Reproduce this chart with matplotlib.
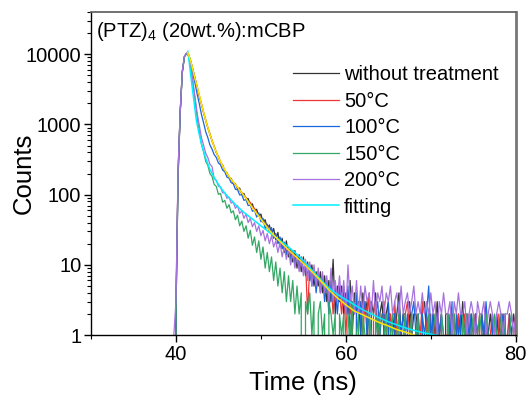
import numpy as np
import matplotlib
matplotlib.use("Agg")
import matplotlib.pyplot as plt
from matplotlib.ticker import FuncFormatter, LogLocator, MultipleLocator

plt.rcParams['font.family'] = ['Liberation Sans', 'DejaVu Sans']
plt.rcParams['mathtext.fontset'] = 'custom'
plt.rcParams['mathtext.rm'] = 'Liberation Sans'
plt.rcParams['mathtext.it'] = 'Liberation Sans:italic'

# TCSPC channels, 0.25 ns apart, starting at 39.5 ns (10 channels per row below)
time_ns = 39.5 + 0.25 * np.arange(170)

counts_untreated = [
    0, 0, 2, 170, 1450, 5500, 9200, 10300, 9800, 7900,
    6020, 4480, 3420, 2530, 1960, 1470, 1160, 890, 735, 580,
    490, 395, 348, 285, 262, 218, 205, 176, 170, 146,
    143, 121, 124, 101, 104, 86, 88, 71, 74, 58,
    62, 49, 53, 40, 44, 33, 37, 27, 33, 23,
    29, 18, 24, 15, 22, 13, 17, 11, 16, 9,
    14, 8, 13, 7, 11, 6, 10, 5, 8, 5,
    8, 4, 7, 3, 6, 3, 12, 2, 5, 3,
    5, 2, 4, 2, 6, 1, 4, 2, 3, 1,
    4, 2, 3, 0, 3, 2, 4, 1, 2, 3,
    1, 2, 3, 0, 2, 1, 2, 4, 1, 2,
    2, 0, 3, 1, 2, 2, 1, 0, 2, 3,
    1, 2, 0, 2, 1, 3, 1, 2, 0, 2,
    2, 1, 2, 0, 1, 2, 1, 3, 1, 2,
    0, 2, 1, 2, 1, 0, 2, 1, 2, 1,
    2, 1, 0, 2, 1, 2, 1, 2, 0, 2,
    1, 2, 1, 0, 2, 1, 2, 1, 2, 1,
]

counts_50C = [
    0, 0, 3, 210, 1520, 5700, 9300, 10200, 9700, 7800,
    5950, 4520, 3380, 2560, 1930, 1490, 1140, 905, 720, 590,
    480, 405, 338, 292, 255, 224, 198, 182, 162, 150,
    137, 128, 113, 108, 95, 91, 79, 78, 66, 64,
    55, 53, 45, 44, 36, 37, 30, 31, 24, 27,
    21, 24, 17, 21, 15, 18, 13, 16, 11, 14,
    9, 12, 8, 11, 2, 10, 6, 9, 5, 7,
    5, 7, 4, 6, 3, 6, 2, 5, 3, 4,
    2, 5, 1, 4, 2, 3, 0, 4, 2, 3,
    1, 3, 2, 4, 0, 2, 3, 1, 2, 0,
    3, 1, 2, 2, 0, 3, 1, 2, 1, 0,
    2, 3, 1, 2, 0, 1, 2, 1, 3, 0,
    2, 1, 2, 0, 2, 1, 1, 2, 0, 1,
    1, 2, 0, 2, 1, 2, 0, 1, 2, 1,
    2, 0, 1, 2, 1, 2, 0, 1, 2, 0,
    1, 2, 1, 0, 2, 1, 2, 0, 1, 2,
    0, 1, 2, 1, 0, 2, 1, 2, 1, 0,
]

counts_100C = [
    0, 0, 2, 190, 1480, 5600, 9250, 10250, 9600, 7300,
    5180, 3820, 2680, 1970, 1390, 1060, 790, 650, 510, 445,
    372, 338, 282, 265, 224, 211, 178, 172, 148, 143,
    119, 118, 99, 100, 83, 85, 70, 71, 58, 60,
    48, 55, 41, 46, 33, 38, 29, 34, 24, 28,
    20, 25, 17, 21, 14, 18, 12, 16, 10, 14,
    9, 13, 8, 11, 7, 10, 5, 9, 4, 8,
    4, 7, 3, 6, 2, 6, 3, 5, 2, 5,
    3, 4, 2, 5, 1, 3, 2, 4, 0, 3,
    2, 3, 1, 2, 3, 0, 2, 3, 1, 2,
    2, 0, 3, 1, 2, 2, 0, 3, 1, 2,
    1, 2, 0, 2, 3, 1, 2, 0, 2, 1,
    2, 5, 1, 2, 0, 2, 1, 2, 1, 0,
    2, 1, 3, 0, 2, 1, 2, 0, 1, 2,
    1, 2, 0, 2, 1, 0, 2, 1, 3, 1,
    0, 2, 1, 2, 0, 1, 2, 1, 0, 2,
    1, 0, 2, 1, 2, 0, 1, 2, 1, 2,
]

counts_150C = [
    0, 0, 2, 200, 1500, 5650, 9300, 10350, 9500, 6500,
    3880, 2230, 1240, 790, 530, 410, 300, 262, 200, 182,
    140, 131, 101, 104, 78, 83, 64, 72, 55, 59,
    44, 51, 36, 42, 30, 36, 24, 31, 19, 25,
    15, 22, 12, 18, 9, 15, 8, 13, 6, 11,
    5, 9, 4, 8, 3, 7, 3, 6, 2, 5,
    2, 4, 0, 3, 2, 4, 1, 3, 0, 2,
    3, 1, 2, 0, 3, 2, 1, 2, 0, 2,
    1, 2, 0, 2, 1, 3, 0, 1, 2, 0,
    2, 1, 0, 2, 1, 0, 2, 1, 2, 0,
    1, 2, 0, 1, 2, 0, 1, 2, 0, 1,
    2, 0, 1, 2, 0, 1, 2, 0, 1, 0,
    1, 2, 0, 1, 2, 1, 0, 2, 1, 0,
    2, 0, 1, 2, 0, 1, 0, 2, 1, 2,
    0, 1, 2, 0, 1, 2, 1, 0, 2, 1,
    1, 0, 2, 1, 0, 2, 1, 2, 0, 1,
    2, 1, 0, 1, 2, 0, 1, 0, 2, 1,
]

counts_200C = [
    0, 1, 3, 230, 1560, 5800, 9400, 10400, 9700, 6800,
    3960, 2420, 1440, 960, 650, 510, 390, 338, 272, 251,
    168, 160, 132, 128, 106, 107, 89, 92, 76, 78,
    64, 70, 54, 59, 46, 53, 40, 46, 35, 40,
    30, 36, 26, 31, 22, 28, 20, 26, 18, 22,
    15, 21, 13, 18, 12, 17, 10, 15, 9, 14,
    8, 13, 7, 12, 6, 11, 5, 10, 5, 9,
    4, 8, 4, 7, 3, 9, 3, 6, 3, 7,
    3, 6, 2, 10, 3, 5, 2, 6, 2, 5,
    2, 5, 3, 4, 2, 6, 2, 4, 3, 5,
    2, 4, 3, 5, 2, 3, 4, 2, 5, 2,
    3, 4, 2, 3, 5, 2, 3, 2, 4, 2,
    3, 2, 4, 2, 3, 1, 3, 2, 4, 2,
    2, 3, 1, 3, 2, 4, 2, 2, 3, 1,
    2, 3, 2, 1, 3, 2, 2, 3, 1, 2,
    3, 2, 1, 2, 3, 2, 1, 2, 2, 3,
    2, 1, 2, 3, 1, 2, 2, 1, 3, 2,
]

# fitted decay curves
fit_time = [41.4, 41.6, 41.8, 42.0, 42.2, 42.4, 42.7, 43.0, 43.5, 44.0, 44.5, 45.0,
            45.5, 46.0, 46.5, 47, 48, 49, 50, 51, 52, 53, 54, 55, 56, 57, 58, 59,
            60, 61, 62, 63, 64, 65, 66, 67, 68, 69, 70, 71, 72]
fit_cyan = [11000, 7000, 4400, 2800, 1800, 1150, 760, 530, 330, 230, 175, 140,
            115, 97, 84, 72, 56, 45, 36, 29, 23.5, 19, 15, 11.5, 8.5, 6.2, 4.7, 3.8,
            3.2, 2.7, 2.3, 2.0, 1.75, 1.55, 1.4, 1.27, 1.17, 1.09, 1.03, 0.98, 0.93]
fit_yellow = [10500, 9000, 7500, 5900, 4700, 3800, 2800, 1950, 1150, 720, 480, 340,
              255, 200, 165, 140, 97, 65, 45, 31, 23, 17.5, 13.5, 10.5, 8, 6, 4.4, 3.4,
              2.7, 2.2, 1.95, 1.7, 1.5, 1.35, 1.2, 1.1, 1.0, 0.93, 0.87, 0.82, 0.77]

fig = plt.figure(figsize=(5.29, 3.98), dpi=100)
ax = fig.add_axes([0.172, 0.158, 0.803, 0.812])

ax.plot(time_ns, counts_untreated, color='#333333', lw=0.9, label='without treatment')
ax.plot(time_ns, counts_50C, color='#ee3535', lw=0.9, label='50\u00b0C')
ax.plot(time_ns, counts_100C, color='#1a66dc', lw=0.9, label='100\u00b0C')
ax.plot(time_ns, counts_150C, color='#33a865', lw=0.9, label='150\u00b0C')
ax.plot(time_ns, counts_200C, color='#a673de', lw=0.9, label='200\u00b0C')
ax.plot(fit_time, fit_cyan, color='#00f0ff', lw=1.1, label='fitting')
ax.plot(fit_time, fit_yellow, color='#ffe600', lw=1.1, label='_nolegend_')

ax.set_yscale('log')
ax.set_xlim(30, 80)
ax.set_ylim(1, 40000)

ax.xaxis.set_major_locator(MultipleLocator(20))
ax.xaxis.set_minor_locator(MultipleLocator(10))
ax.yaxis.set_major_locator(LogLocator(base=10, numticks=10))
ax.yaxis.set_minor_locator(LogLocator(base=10, subs=np.arange(2, 10), numticks=20))
ax.yaxis.set_major_formatter(FuncFormatter(lambda v, p: '%d' % v))
ax.tick_params(which='both', direction='out', top=False, right=False, labelsize=14.5, pad=2)
ax.tick_params(which='major', length=5, width=1)
ax.tick_params(which='minor', length=3, width=0.8)

for side in ['left', 'bottom']:
    ax.spines[side].set_linewidth(1.0)
    ax.spines[side].set_color('black')
ax.spines['top'].set_color('#666666')
ax.spines['top'].set_linewidth(1.3)
ax.spines['right'].set_color('#777777')
ax.spines['right'].set_linewidth(2.0)

ax.set_xlabel('Time (ns)', fontsize=18.5)
ax.set_ylabel('Counts', fontsize=18.5)
ax.yaxis.set_label_coords(-0.13, 0.5)
ax.xaxis.set_label_coords(0.5, -0.112)

ax.text(0.012, 0.975, '(PTZ)$_4$ (20wt.%):mCBP', transform=ax.transAxes,
        fontsize=14.5, va='top', ha='left')

ax.legend(loc='upper left', bbox_to_anchor=(0.475, 0.835), frameon=False,
          fontsize=14.5, handlelength=2.3, handletextpad=0.25, labelspacing=0.37,
          borderpad=0, borderaxespad=0)

fig.savefig('out.png', dpi=100)
